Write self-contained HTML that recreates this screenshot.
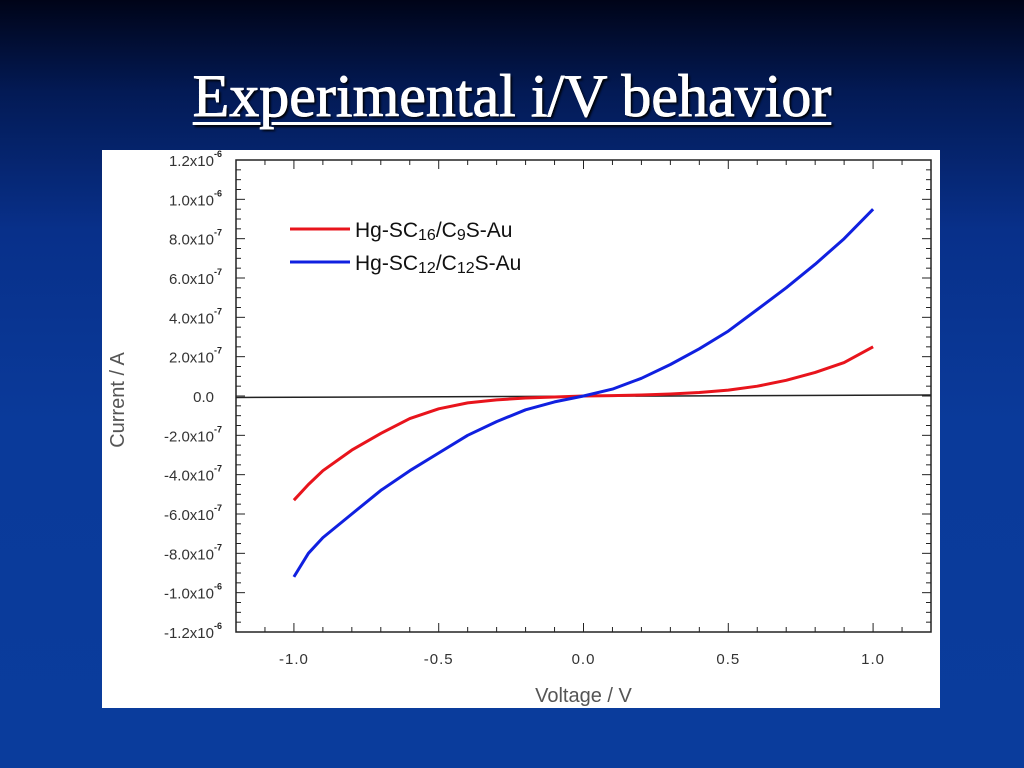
<!DOCTYPE html>
<html><head><meta charset="utf-8"><style>
html,body{margin:0;padding:0}
body{width:1024px;height:768px;overflow:hidden;position:relative;background:linear-gradient(180deg,#000418 0%,#031a55 12%,#08308a 30%,#0a3a9a 55%,#0a3c9c 100%);font-family:"Liberation Sans",sans-serif}
#title{position:absolute;left:0;top:62px;width:1024px;text-align:center;color:#fff;font-family:"Liberation Serif",serif;font-size:60px;line-height:69px;text-decoration:underline;text-decoration-thickness:3px;text-underline-offset:6px;text-shadow:2px 2px 2px #000;-webkit-text-stroke:0.8px #fff}
#panel{position:absolute;left:102px;top:150px;width:838px;height:558px;background:#fff}
</style></head><body>
<div id="title">Experimental i/V behavior</div>
<div id="panel">
<svg id="chart" width="838" height="558"></svg>
</div>
<script>
const xTicks=[-1.0,-0.5,0.0,0.5,1.0];
const xTickLabels=["-1.0","-0.5","0.0","0.5","1.0"];
const yTicks=[1.2e-6,1.0e-6,8e-7,6e-7,4e-7,2e-7,0,-2e-7,-4e-7,-6e-7,-8e-7,-1.0e-6,-1.2e-6];
const yMant=["1.2x10","1.0x10","8.0x10","6.0x10","4.0x10","2.0x10","0.0","-2.0x10","-4.0x10","-6.0x10","-8.0x10","-1.0x10","-1.2x10"];
const yExp=["-6","-6","-7","-7","-7","-7","","-7","-7","-7","-7","-6","-6"];
const voltage=[-1.0,-0.95,-0.9,-0.8,-0.7,-0.6,-0.5,-0.4,-0.3,-0.2,-0.1,0,0.1,0.2,0.3,0.4,0.5,0.6,0.7,0.8,0.9,1.0];
const redCurrent=[-5.3e-7,-4.5e-7,-3.8e-7,-2.75e-7,-1.9e-7,-1.15e-7,-0.65e-7,-0.35e-7,-0.2e-7,-0.1e-7,-0.05e-7,0,0.02e-7,0.05e-7,0.1e-7,0.18e-7,0.3e-7,0.5e-7,0.8e-7,1.2e-7,1.7e-7,2.5e-7];
const blueCurrent=[-9.2e-7,-8.0e-7,-7.2e-7,-6.0e-7,-4.8e-7,-3.8e-7,-2.9e-7,-2.0e-7,-1.3e-7,-0.7e-7,-0.3e-7,0,0.35e-7,0.9e-7,1.6e-7,2.4e-7,3.3e-7,4.4e-7,5.5e-7,6.7e-7,8.0e-7,9.5e-7];
const NS="http://www.w3.org/2000/svg";
const svg=document.getElementById('chart');
const L=134,R=829,T=10,B=482;
const xs=v=>L+(v+1.2)/2.4*(R-L);
const ys=v=>T+(1.2e-6-v)/2.4e-6*(B-T);
function mk(tag,attrs,parent){const e=document.createElementNS(NS,tag);for(const k in attrs)e.setAttribute(k,attrs[k]);(parent||svg).appendChild(e);return e;}
const fr=mk('rect',{x:L,y:T,width:R-L,height:B-T,fill:'none',stroke:'#222','stroke-width':1.5});


const zl=mk('line',{x1:L,y1:ys(0)+1.5,x2:R,y2:ys(0)-1,stroke:'#222','stroke-width':1.5});


for(let i=-12;i<=12;i++){const v=i/10;const x=xs(v);const len=(i%5===0)?9:5;
mk('line',{x1:x,y1:B,x2:x,y2:B-len,stroke:'#222','stroke-width':1});
mk('line',{x1:x,y1:T,x2:x,y2:T+len,stroke:'#222','stroke-width':1});}
xTicks.forEach((v,i)=>{const t=mk('text',{x:xs(v),y:B+32,'text-anchor':'middle','font-size':15,fill:'#333','letter-spacing':'1'});t.textContent=xTickLabels[i];

});
for(let i=-24;i<=24;i++){const v=i*0.5e-7;const y=ys(v);const len=(i%4===0)?9:5;
mk('line',{x1:L,y1:y,x2:L+len,y2:y,stroke:'#222','stroke-width':1});
mk('line',{x1:R,y1:y,x2:R-len,y2:y,stroke:'#222','stroke-width':1});}
yTicks.forEach((v,i)=>{const g=mk('text',{x:L-22,y:ys(v)+6,'text-anchor':'end','font-size':15,fill:'#333'});g.textContent=yMant[i];


if(yExp[i]){const e=mk('text',{x:L-22,y:ys(v)-3,'font-size':9,'font-weight':'bold',fill:'#222'});e.textContent=yExp[i];}});
const xt=mk('text',{x:xs(0),y:552,'text-anchor':'middle','font-size':20,fill:'#555'});xt.textContent='Voltage / V';


const yt=mk('text',{x:0,y:0,'text-anchor':'middle','font-size':20,fill:'#555',transform:'translate(22,250) rotate(-90)'});yt.textContent='Current / A';


function line(vals,color,name){const d=voltage.map((v,i)=>(i?'L':'M')+xs(v).toFixed(1)+','+ys(vals[i]).toFixed(1)).join(' ');
const p=mk('path',{d:d,fill:'none',stroke:color,'stroke-width':3,'stroke-linejoin':'round'});

}
line(redCurrent,'#e8141c','series-hg-sc16-c9s-au');
line(blueCurrent,'#1020e0','series-hg-sc12-c12s-au');
function leg(y,color,sub1,sub2,name){const g=mk('g',{});


mk('line',{x1:188,y1:y,x2:248,y2:y,stroke:color,'stroke-width':3},g);
const t=mk('text',{x:253,y:y+8,'font-size':21,fill:'#111'},g);
t.innerHTML='Hg-SC<tspan font-size="16" dy="3">'+sub1+'</tspan><tspan dy="-3">/C</tspan><tspan font-size="16" dy="3">'+sub2+'</tspan><tspan dy="-3">S-Au</tspan>';}
leg(79,'#e8141c','16','9','legend-entry-red');
leg(112,'#1020e0','12','12','legend-entry-blue');
</script>
</body></html>
